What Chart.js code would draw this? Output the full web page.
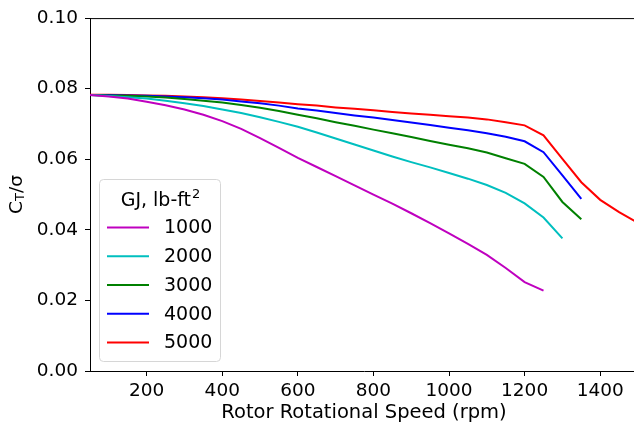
<!DOCTYPE html>
<html>
<head>
<meta charset="utf-8">
<script src="https://cdn.jsdelivr.net/npm/chart.js@4/dist/chart.umd.min.js"></script>
<style>
  html, body { margin: 0; padding: 0; overflow: hidden; background: #fff; }
  #wrap { width: 634px; height: 430px; overflow: hidden; position: relative; }
</style>
</head>
<body>
<div id="wrap"><canvas id="c" width="660" height="430"></canvas></div>
<script>
// rotor speed samples (rpm)
const rpm = [50,100,150,200,250,300,350,400,450,500,550,600,650,700,750,800,850,900,950,1000,1050,1100,1150,1200,1250,1300,1350,1400,1450,1500];
const gjLabels = ['1000','2000','3000','4000','5000'];
const gjColors = ['#bf00bf','#00bfbf','#008000','#0000ff','#ff0000'];

// CT/sigma, one array per GJ
const ct1000 = [0.0782,0.0778,0.0772,0.0763,0.0753,0.0741,0.0726,0.0708,0.0686,0.0660,0.0632,0.0604,0.0578,0.0552,0.0526,0.0500,0.0474,0.0447,0.0419,0.0390,0.0360,0.0329,0.0292,0.0252,0.0228];
const ct2000 = [0.0782,0.0779,0.0776,0.0772,0.0766,0.0759,0.0751,0.0741,0.0731,0.0719,0.0706,0.0692,0.0676,0.0659,0.0642,0.0625,0.0608,0.0592,0.0577,0.0561,0.0545,0.0527,0.0505,0.0475,0.0435,0.0376];
const ct3000 = [0.0782,0.0781,0.0780,0.0778,0.0775,0.0771,0.0766,0.0761,0.0754,0.0746,0.0737,0.0726,0.0716,0.0705,0.0695,0.0684,0.0674,0.0663,0.0652,0.0641,0.0631,0.0619,0.0603,0.0587,0.0550,0.0479,0.0430];
const ct4000 = [0.0782,0.0782,0.0781,0.0780,0.0778,0.0776,0.0773,0.0769,0.0764,0.0759,0.0752,0.0744,0.0738,0.0731,0.0724,0.0718,0.0711,0.0704,0.0697,0.0689,0.0682,0.0674,0.0664,0.0651,0.0620,0.0554,0.0488];
const ct5000 = [0.0783,0.0783,0.0782,0.0781,0.0780,0.0778,0.0776,0.0773,0.0769,0.0765,0.0761,0.0756,0.0752,0.0747,0.0743,0.0739,0.0734,0.0730,0.0726,0.0722,0.0718,0.0713,0.0705,0.0696,0.0668,0.0601,0.0535,0.0485,0.0450,0.0420];

const xTicks = [200,400,600,800,1000,1200,1400];
const yTicks = [0,0.02,0.04,0.06,0.08,0.10];

const FONT = 'DejaVu Sans';
const series = [ct1000, ct2000, ct3000, ct4000, ct5000];

const datasets = series.map((vals, i) => ({
  label: gjLabels[i],
  data: vals.map((v, k) => ({ x: rpm[k], y: v })),
  borderColor: gjColors[i],
  borderWidth: 2,
  pointRadius: 0,
  tension: 0,
  fill: false
}));

// top spine, y title with subscript, matplotlib-like legend
const extras = {
  id: 'extras',
  afterDraw(chart) {
    const ctx = chart.ctx;
    const a = chart.chartArea;
    ctx.save();
    ctx.strokeStyle = '#000';
    ctx.lineWidth = 1;
    ctx.beginPath();
    ctx.moveTo(a.left, a.top + 0.5);
    ctx.lineTo(a.right, a.top + 0.5);
    ctx.stroke();

    // y axis title: C_T/σ
    ctx.translate(17, (a.top + a.bottom) / 2);
    ctx.rotate(-Math.PI / 2);
    ctx.fillStyle = '#000';
    ctx.textBaseline = 'middle';
    ctx.font = '18.5px ' + FONT;
    const wC = ctx.measureText('C').width;
    ctx.font = '13px ' + FONT;
    const wT = ctx.measureText('T').width;
    ctx.font = '18.5px ' + FONT;
    const wR = ctx.measureText('/σ').width;
    let x0 = -(wC + wT + wR) / 2;
    ctx.textAlign = 'left';
    ctx.fillText('C', x0, 0);
    ctx.font = '13px ' + FONT;
    ctx.fillText('T', x0 + wC, 4);
    ctx.font = '18.5px ' + FONT;
    ctx.fillText('/σ', x0 + wC + wT, 0);
    ctx.restore();

    // legend box
    const bx = 99.5, by = 179.5, bw = 121, bh = 182;
    ctx.save();
    ctx.fillStyle = 'rgba(255,255,255,0.8)';
    ctx.strokeStyle = '#d6d6d6';
    ctx.lineWidth = 1;
    ctx.beginPath();
    ctx.roundRect(bx, by, bw, bh, 4);
    ctx.fill();
    ctx.stroke();

    ctx.fillStyle = '#000';
    ctx.textBaseline = 'alphabetic';
    ctx.font = '19px ' + FONT;
    const tMain = 'GJ, lb-ft';
    const wMain = ctx.measureText(tMain).width;
    ctx.font = '13px ' + FONT;
    const wSup = ctx.measureText('2').width;
    const tx = bx + bw / 2 - (wMain + wSup) / 2;
    ctx.font = '19px ' + FONT;
    ctx.fillText(tMain, tx, 206);
    ctx.font = '13px ' + FONT;
    ctx.fillText('2', tx + wMain + 1, 198);

    ctx.font = '19px ' + FONT;
    ctx.textBaseline = 'middle';
    chart.data.datasets.forEach((ds, i) => {
      const y = 227.5 + i * 28.75;
      ctx.strokeStyle = ds.borderColor;
      ctx.lineWidth = 2;
      ctx.beginPath();
      ctx.moveTo(107, y);
      ctx.lineTo(149, y);
      ctx.stroke();
      ctx.fillStyle = '#000';
      ctx.fillText(ds.label, 164, y + 1);
    });
    ctx.restore();
  }
};

new Chart(document.getElementById('c'), {
  type: 'line',
  data: { datasets },
  options: {
    responsive: false,
    devicePixelRatio: 1,
    animation: false,
    layout: { padding: { top: 16, right: 22, left: 0, bottom: 0 } },
    plugins: { legend: { display: false }, tooltip: { enabled: false } },
    scales: {
      x: {
        type: 'linear',
        min: 50,
        max: 1500,
        afterBuildTicks: s => { s.ticks = xTicks.map(v => ({ value: v })); },
        afterFit: s => { s.height = 59; },
        grid: { drawOnChartArea: false, drawTicks: true, tickLength: 5, color: '#000' },
        border: { display: true, color: '#000', width: 1 },
        ticks: { color: '#000', font: { family: FONT, size: 18.5 }, padding: 4, maxRotation: 0, callback: v => String(v) },
        title: { display: true, text: 'Rotor Rotational Speed (rpm)', color: '#000', font: { family: FONT, size: 19.5 }, padding: { top: 0, bottom: 5 } }
      },
      y: {
        min: 0,
        max: 0.1,
        afterBuildTicks: s => { s.ticks = yTicks.map(v => ({ value: v })); },
        afterFit: s => { s.width = 90; },
        grid: { drawOnChartArea: false, drawTicks: true, tickLength: 5, color: '#000' },
        border: { display: true, color: '#000', width: 1 },
        ticks: { color: '#000', font: { family: FONT, size: 18.5 }, padding: 7, callback: v => v.toFixed(2) }
      }
    }
  },
  plugins: [extras]
});
</script>
</body>
</html>
